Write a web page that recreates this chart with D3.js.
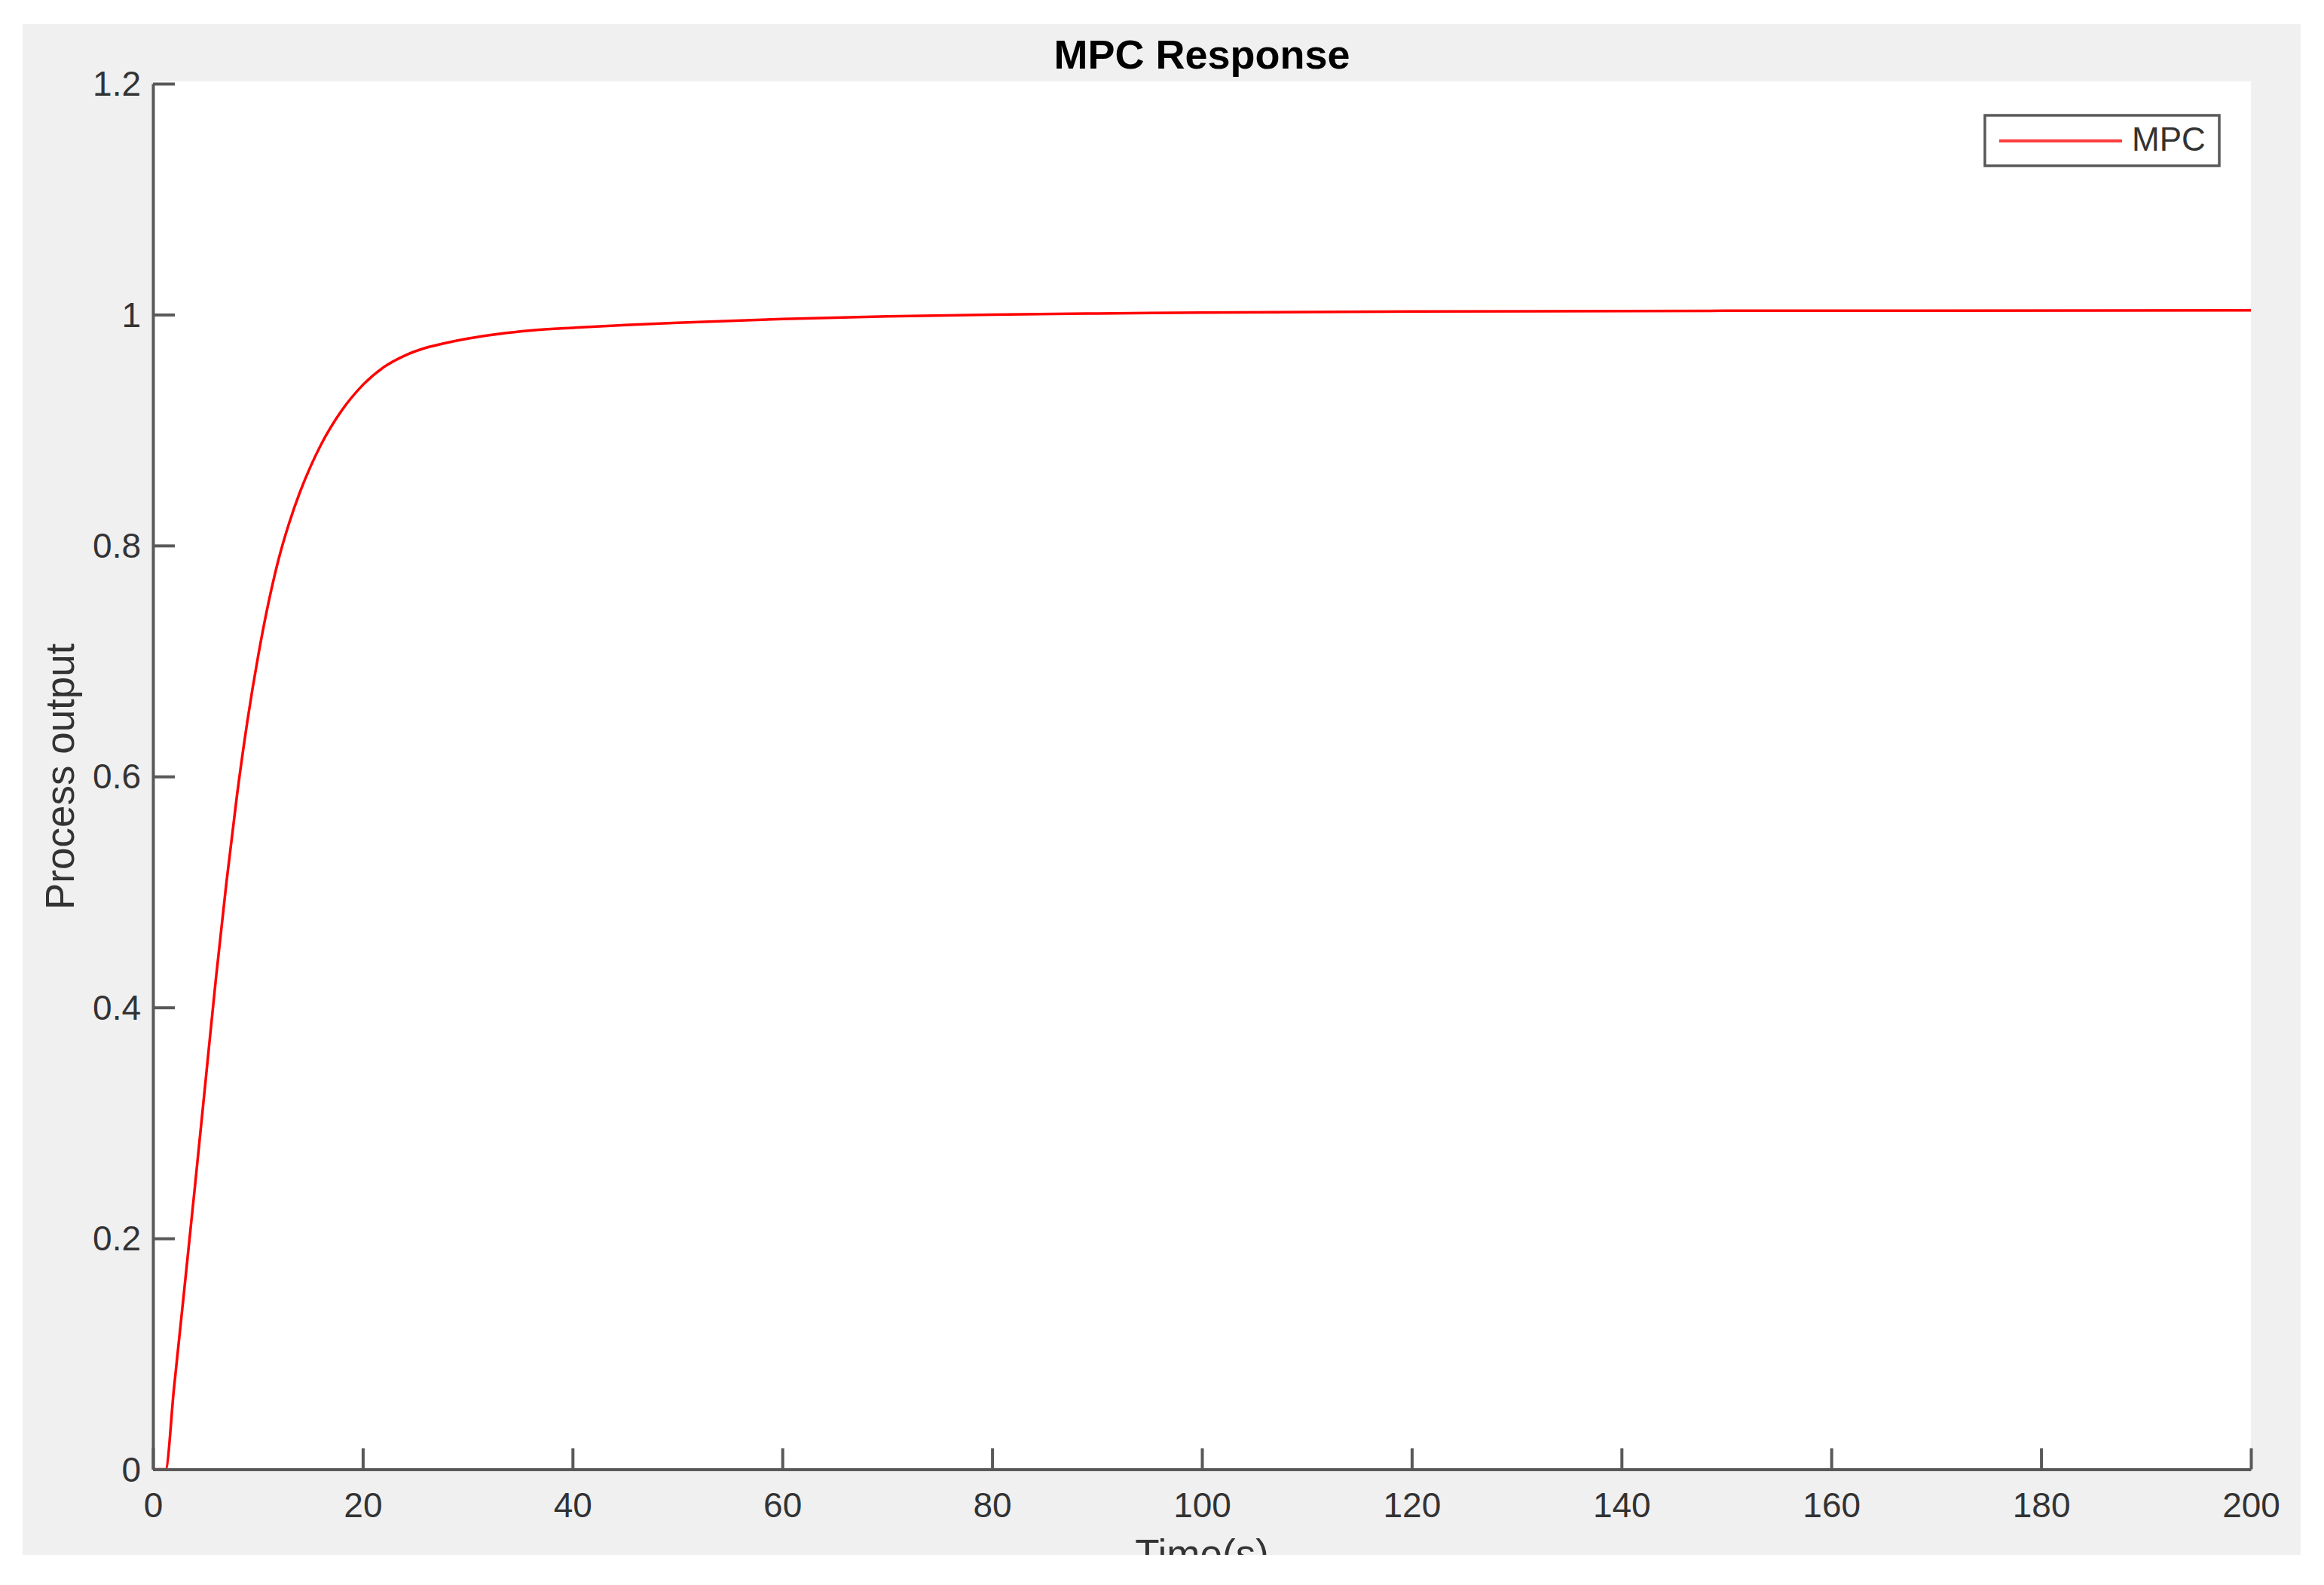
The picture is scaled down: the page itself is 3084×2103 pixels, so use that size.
<!DOCTYPE html>
<html>
<head>
<meta charset="utf-8">
<script src="https://cdn.jsdelivr.net/npm/d3@7"></script>
<style>
  html, body { margin: 0; padding: 0; background: #ffffff; }
  svg { display: block; }
  text { font-family: "Liberation Sans", Arial, Helvetica, sans-serif; }
</style>
</head>
<body>
<script>
// ---- data ----
const timeValues = [0, 1.2, 2, 3, 4, 5, 6, 7, 8, 9, 10, 11, 12, 13, 14, 15, 16, 18, 20, 22, 24, 26, 28, 30, 33, 36, 40, 45, 50, 60, 70, 80, 90, 100, 120, 150, 200];
const outputValues = [0, 0, 0.07, 0.157, 0.245, 0.335, 0.425, 0.508, 0.583, 0.648, 0.703, 0.75, 0.789, 0.82, 0.846, 0.868, 0.887, 0.917, 0.939, 0.9545, 0.9645, 0.9712, 0.9756, 0.9792, 0.9833, 0.9862, 0.9886, 0.9909, 0.9929, 0.9962, 0.9985, 1.0000, 1.001, 1.0018, 1.0027, 1.0033, 1.0037];
const xTicks = [0, 20, 40, 60, 80, 100, 120, 140, 160, 180, 200];
const yTicks = [0, 0.2, 0.4, 0.6, 0.8, 1, 1.2];
const seriesName = "MPC";
const titleText = "MPC Response";
const xLabel = "Time(s)";
const yLabel = "Process output";

const W = 3084, H = 2103;
const axisColor = "#595959";
const textColor = "#333333";

const svg = d3.select("body").append("svg").attr("width", W).attr("height", H);

// figure background
svg.append("rect").attr("x", 0).attr("y", 0).attr("width", W).attr("height", H).attr("fill", "#ffffff");
svg.append("rect").attr("x", 30).attr("y", 32).attr("width", 3023).attr("height", 2031).attr("fill", "#f0f0f0");

const defs = svg.append("defs");
defs.append("clipPath").attr("id", "figclip")
  .append("rect").attr("x", 30).attr("y", 32).attr("width", 3023).attr("height", 2031);

const x = d3.scaleLinear().domain([0, 200]).range([203, 2987]);
const y = d3.scaleLinear().domain([0, 1.2]).range([1949.5, 111]);

// plot area
svg.append("rect")
  .attr("x", x(0)).attr("y", 108)
  .attr("width", x(200) - x(0)).attr("height", y(0) - 108)
  .attr("fill", "#ffffff");

// curve
const data = timeValues.map((t, i) => ({ t, v: outputValues[i] }));
const line = d3.line().x(d => x(d.t)).y(d => y(d.v)).curve(d3.curveMonotoneX);
svg.append("path").datum(data)
  .attr("d", line)
  .attr("fill", "none")
  .attr("stroke", "#ff0000")
  .attr("stroke-width", 3.5)
  .attr("stroke-linejoin", "round");

// axes
const xAxis = d3.axisBottom(x).tickValues(xTicks).tickFormat(d3.format("d"))
  .tickSizeInner(-28).tickSizeOuter(0).tickPadding(31);
const yAxis = d3.axisLeft(y).tickValues(yTicks).tickFormat(d => d === 0 ? "0" : (d === 1 ? "1" : d3.format(".1f")(d)))
  .tickSizeInner(-29).tickSizeOuter(0).tickPadding(16);

const gx = svg.append("g").attr("transform", `translate(0,${y(0)})`).call(xAxis);
const gy = svg.append("g").attr("transform", `translate(${x(0)},0)`).call(yAxis);

[gx, gy].forEach(g => {
  g.select(".domain").attr("stroke", axisColor).attr("stroke-width", 4);
  g.selectAll(".tick line").attr("stroke", axisColor).attr("stroke-width", 4);
  g.selectAll(".tick text")
    .attr("fill", textColor)
    .style("font-size", "46px")
    .style("font-family", "'Liberation Sans', Arial, sans-serif");
});
gy.selectAll(".tick text").attr("dy", "0.34em");

// title
svg.append("text")
  .attr("x", (x(0) + x(200)) / 2).attr("y", 91)
  .attr("text-anchor", "middle")
  .style("font-size", "54px").style("font-weight", "bold")
  .attr("fill", "#000000")
  .text(titleText);

// y label
svg.append("text")
  .attr("transform", `translate(98,${(y(0) + y(1.2)) / 2}) rotate(-90)`)
  .attr("text-anchor", "middle")
  .style("font-size", "53px")
  .attr("fill", textColor)
  .text(yLabel);

// x label (cut off by the figure edge as in reference)
svg.append("g").attr("clip-path", "url(#figclip)")
  .append("text")
  .attr("x", (x(0) + x(200)) / 2).attr("y", 2080)
  .attr("text-anchor", "middle")
  .style("font-size", "53px")
  .attr("fill", textColor)
  .text(xLabel);

// legend
const lg = svg.append("g");
lg.append("rect")
  .attr("x", 2634).attr("y", 153).attr("width", 311).attr("height", 67)
  .attr("fill", "#ffffff").attr("stroke", axisColor).attr("stroke-width", 3.5);
lg.append("line")
  .attr("x1", 2653).attr("x2", 2816).attr("y1", 187).attr("y2", 187)
  .attr("stroke", "#ff3c3c").attr("stroke-width", 4);
lg.append("text")
  .attr("x", 2829).attr("y", 200)
  .style("font-size", "44px")
  .attr("fill", textColor)
  .text(seriesName);
</script>
</body>
</html>
